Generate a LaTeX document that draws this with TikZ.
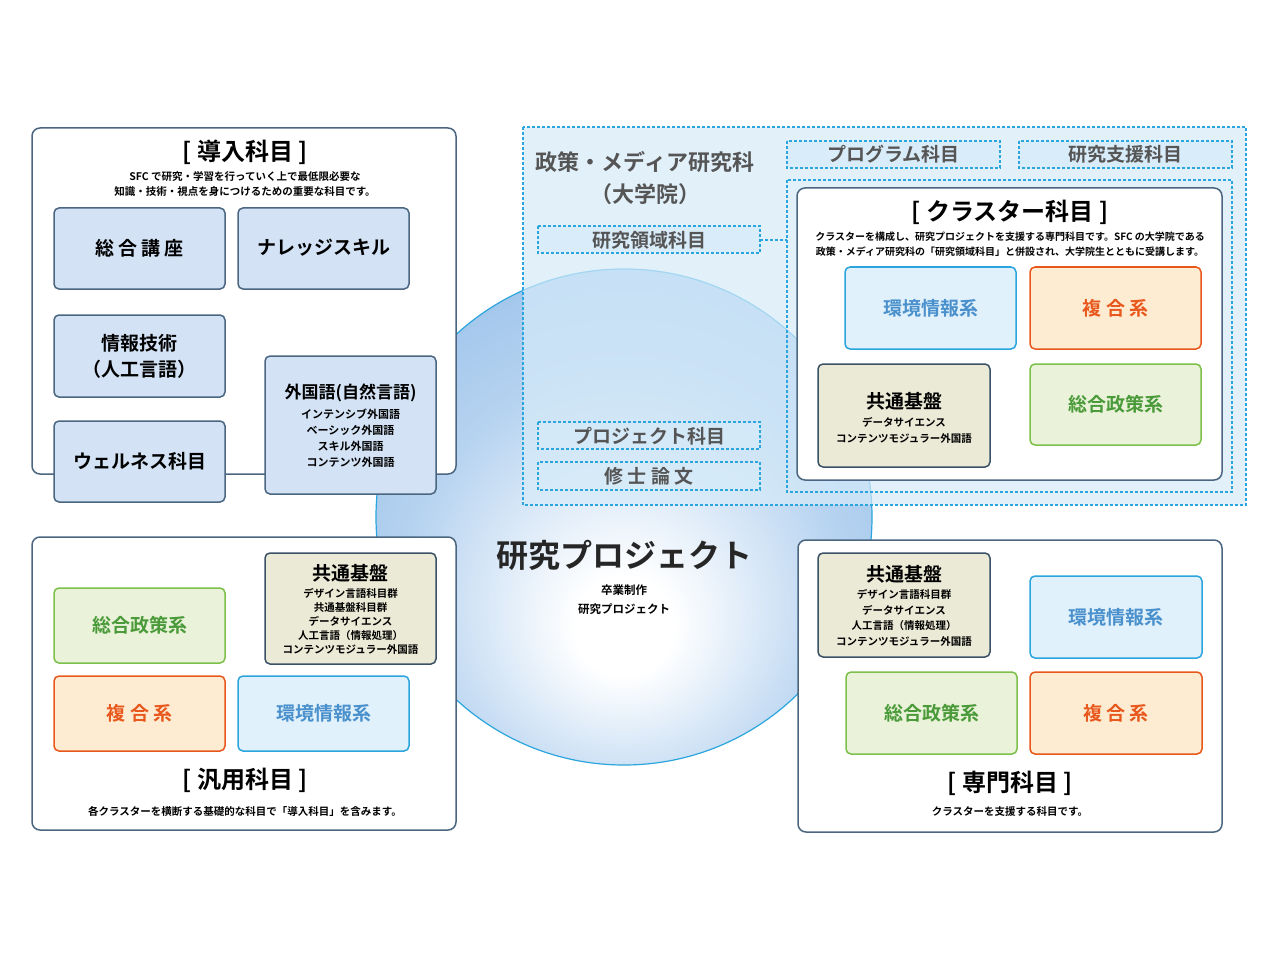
\documentclass[tikz,border=0pt]{standalone}
\usepackage{fontspec}
\setmainfont{Noto Sans CJK JP}[BoldFont={Noto Sans CJK JP Bold}]
\definecolor{panelline}{HTML}{4A6680}
\definecolor{introfill}{HTML}{D3E3F5}
\definecolor{basefill}{HTML}{EBEAD6}
\definecolor{greenfill}{HTML}{EAF3D9}
\definecolor{greenline}{HTML}{7CC04A}
\definecolor{greentext}{HTML}{4A9A3A}
\definecolor{orfill}{HTML}{FDEBD2}
\definecolor{orline}{HTML}{E8581C}
\definecolor{bluefill}{HTML}{E0F1FB}
\definecolor{blueline}{HTML}{2BA5DD}
\definecolor{bluetext}{HTML}{4A90CC}
\definecolor{regfill}{HTML}{D6EBF9}
\definecolor{dashline}{HTML}{2BA5DD}
\definecolor{graytext}{HTML}{555555}
\definecolor{circlefill}{HTML}{8FBBE8}
\pgfdeclareradialshading{circshade}{\pgfpoint{0bp}{-12bp}}{color(0bp)=(white); color(5bp)=(white); color(22bp)=(circlefill!65); color(40bp)=(circlefill); color(62bp)=(circlefill!85!blue!60!black)}
\begin{document}
\begin{tikzpicture}[x=1pt,y=-1pt,
  panel/.style={draw=panelline,line width=1.5pt,rounded corners=8pt,fill=white},
  ibox/.style={draw=panelline,line width=1.5pt,rounded corners=5pt,fill=introfill},
  kbox/.style={draw=panelline!80!black,line width=1.5pt,rounded corners=5pt,fill=basefill},
  gbox/.style={draw=greenline,line width=1.5pt,rounded corners=5pt,fill=greenfill},
  obox/.style={draw=orline,line width=1.5pt,rounded corners=5pt,fill=orfill},
  bbox/.style={draw=blueline,line width=1.5pt,rounded corners=5pt,fill=bluefill},
  dline/.style={draw=dashline,line width=1.2pt,dash pattern=on 3pt off 2pt},
  dbox/.style={dline,fill=regfill,fill opacity=0.7},
  big/.style={font=\bfseries\fontsize{19}{22}\selectfont},
  title/.style={font=\bfseries\fontsize{24}{28}\selectfont},
  small/.style={font=\bfseries\fontsize{10.5}{15.5}\selectfont,align=center},
  dtext/.style={font=\bfseries\fontsize{19}{22}\selectfont,text=graytext}]
\useasboundingbox (0,0) rectangle (1280,960);
\fill[white] (0,0) rectangle (1280,960);
% circle
\shade[shading=circshade] (624,517) circle (248);
\draw[dashline,line width=1.2pt] (624,517) circle (248);
% graduate region
\path[dbox] (523,127) rectangle (1246,505);
% top-left panel
\path[panel] (32,128) rectangle (456,474);
\node[title] (t1) at (245,152) {[ 導入科目 ]};
\node[small] (d1) at (245,184) {SFC で研究・学習を行っていく上で最低限必要な\\知識・技術・視点を身につけるための重要な科目です。};
\path[ibox] (54,208) rectangle (225,289); \node[big] (a1) at (139.5,248) {総 合 講 座};
\path[ibox] (238,208) rectangle (409,289); \node[big] (a2) at (323.5,248) {ナレッジスキル};
\path[ibox] (54,315) rectangle (225,397); \node[big,align=center,font=\bfseries\fontsize{19}{26}\selectfont] (a3) at (139.5,356) {情報技術\\（人工言語）};
\path[ibox] (54,421) rectangle (225,502); \node[big] (a4) at (139.5,461) {ウェルネス科目};
\path[ibox] (265,356) rectangle (436,494);
\node[big,font=\bfseries\fontsize{17}{20}\selectfont] (a5) at (350.5,393) {外国語(自然言語)};
\node[small,font=\bfseries\fontsize{11}{16}\selectfont] (a5d) at (350.5,438) {インテンシブ外国語\\ベーシック外国語\\スキル外国語\\コンテンツ外国語};
% bottom-left panel
\path[panel] (32,537) rectangle (456,830);
\path[kbox] (265,553) rectangle (436,664);
\node[big] (b1) at (350.5,573) {共通基盤};
\node[small,font=\bfseries\fontsize{10.5}{14}\selectfont] (b1d) at (350.5,621) {デザイン言語科目群\\共通基盤科目群\\データサイエンス\\人工言語（情報処理）\\コンテンツモジュラー外国語};
\path[gbox] (54,588) rectangle (225,663); \node[big,text=greentext] (b2) at (139.5,625) {総合政策系};
\path[obox] (54,676) rectangle (225,751); \node[big,text=orline] (b3) at (139.5,713) {複 合 系};
\path[bbox] (238,676) rectangle (409,751); \node[big,text=bluetext] (b4) at (323.5,713) {環境情報系};
\node[title] (t2) at (245,780) {[ 汎用科目 ]};
\node[small] (d2) at (245,811) {各クラスターを横断する基礎的な科目で「導入科目」を含みます。};
% bottom-right panel
\path[panel] (798,540) rectangle (1222,832);
\path[kbox] (818,553) rectangle (990,657);
\node[big] (c1) at (904,574) {共通基盤};
\node[small,font=\bfseries\fontsize{10.5}{15.5}\selectfont] (c1d) at (904,618) {デザイン言語科目群\\データサイエンス\\人工言語（情報処理）\\コンテンツモジュラー外国語};
\path[bbox] (1030,576) rectangle (1202,658); \node[big,text=bluetext] (c2) at (1116,617) {環境情報系};
\path[gbox] (846,672) rectangle (1017,754); \node[big,text=greentext] (c3) at (931.5,713) {総合政策系};
\path[obox] (1030,672) rectangle (1202,754); \node[big,text=orline] (c4) at (1116,713) {複 合 系};
\node[title] (t3) at (1010,783) {[ 専門科目 ]};
\node[small] (d3) at (1010,812) {クラスターを支援する科目です。};
% graduate contents
\node[font=\bfseries\fontsize{22}{32}\selectfont,text=graytext,align=center] (g0) at (645,178) {政策・メディア研究科\\（大学院）};
\path[dbox] (538,226) rectangle (760,253); \node[dtext] (g1) at (649,240) {研究領域科目};
\path[dbox] (787,141) rectangle (1000,168); \node[dtext] (g2) at (893.5,154) {プログラム科目};
\path[dbox] (1019,141) rectangle (1232,168); \node[dtext] (g3) at (1125.5,154) {研究支援科目};
\path[dline] (787,180) rectangle (1232,492);
\coordinate (gl) at (760,240); \coordinate (gr) at (787,240);
\draw[dline] (gl) -- (gr);
\path[dbox] (538,422) rectangle (760,449); \node[dtext] (g4) at (649,436) {プロジェクト科目};
\path[dbox] (538,462) rectangle (760,490); \node[dtext] (g5) at (649,476) {修 士 論 文};
% cluster panel
\path[panel] (797,188) rectangle (1222,480);
\node[title] (t4) at (1010,212) {[ クラスター科目 ]};
\node[small,font=\bfseries\fontsize{10}{15}\selectfont] (d4) at (1010,244) {クラスターを構成し、研究プロジェクトを支援する専門科目です。SFC の大学院である\\政策・メディア研究科の「研究領域科目」と併設され、大学院生とともに受講します。};
\path[bbox] (845,267) rectangle (1016,349); \node[big,text=bluetext] (e1) at (930.5,308) {環境情報系};
\path[obox] (1030,267) rectangle (1201,349); \node[big,text=orline] (e2) at (1115.5,308) {複 合 系};
\path[kbox] (818,364) rectangle (990,467);
\node[big] (e3) at (904,401) {共通基盤};
\node[small,font=\bfseries\fontsize{10.5}{16}\selectfont] (e3d) at (904,430) {データサイエンス\\コンテンツモジュラー外国語};
\path[gbox] (1030,364) rectangle (1201,445); \node[big,text=greentext] (e4) at (1115.5,404) {総合政策系};
% center
\node[font=\bfseries\fontsize{32}{36}\selectfont,text=black!85] (p0) at (624,555) {研究プロジェクト};
\node[small,font=\bfseries\fontsize{11.5}{19}\selectfont] (p1) at (624,600) {卒業制作\\研究プロジェクト};
\end{tikzpicture}
\end{document}
